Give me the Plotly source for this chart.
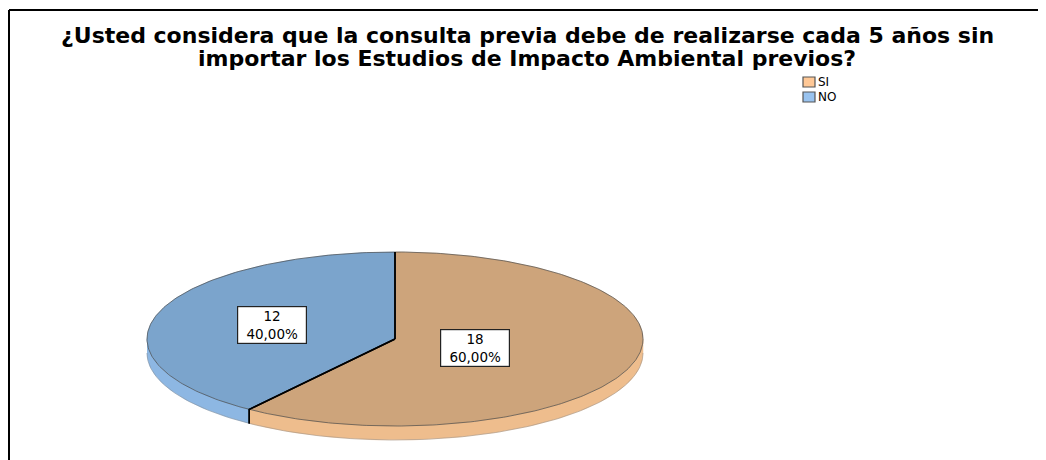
import numpy as np
import plotly.graph_objects as go

# data
labels = ['SI', 'NO']
counts = [18, 12]
percent_text = ['60,00%', '40,00%']

top_colors = ['#CDA47B', '#7BA4CC']
side_colors = ['#EEBD8D', '#8DB7E3']
legend_colors = ['#FFC896', '#99C3EF']

# geometry of the tilted pie (pixel space of the page)
cx, cy = 395, 339
rx, ry = 248, 87
depth = 14
label_r = [0.34, 0.52]


def ell(theta_deg, dy=0):
    t = np.radians(theta_deg)
    return cx + rx * np.cos(t), cy - ry * np.sin(t) + dy


total = sum(counts)
spans = [c / total * 360 for c in counts]

fig = go.Figure()

# slice angle ranges, starting at 12 o'clock, going clockwise
ranges = []
start = 90.0
for s in spans:
    ranges.append((start - s, start))
    start -= s

# sides (front part of the cylinder)
for i, (lo, hi) in enumerate(ranges):
    for shift in (-360, 0, 360):
        a = max(lo, 180 + shift)
        b = min(hi, 360 + shift)
        if a < b:
            th = np.linspace(a, b, 80)
            xt, yt = ell(th)
            xb, yb = ell(th[::-1], depth)
            fig.add_trace(go.Scatter(
                x=np.concatenate([xt, xb]), y=np.concatenate([yt, yb]),
                fill='toself', fillcolor=side_colors[i], mode='lines',
                line=dict(color=side_colors[i], width=0.5),
                hoverinfo='skip', showlegend=False))

# bottom rim of side
th = np.linspace(180, 360, 200)
xb, yb = ell(th, depth)
fig.add_trace(go.Scatter(x=xb, y=yb, mode='lines',
                         line=dict(color='rgba(120,120,120,0.5)', width=0.8),
                         hoverinfo='skip', showlegend=False))

# top faces
for i, (lo, hi) in enumerate(ranges):
    th = np.linspace(lo, hi, 200)
    xt, yt = ell(th)
    fig.add_trace(go.Scatter(
        x=np.concatenate([[cx], xt, [cx]]), y=np.concatenate([[cy], yt, [cy]]),
        fill='toself', fillcolor=top_colors[i], mode='lines',
        line=dict(color=top_colors[i], width=0.5),
        hoverinfo='skip', showlegend=False))

# rim outline of top face
th = np.linspace(0, 360, 400)
xt, yt = ell(th)
fig.add_trace(go.Scatter(x=xt, y=yt, mode='lines',
                         line=dict(color='rgba(70,70,70,0.75)', width=0.9),
                         hoverinfo='skip', showlegend=False))

# slice borders
for lo, hi in ranges:
    for a in (lo, hi):
        px, py = ell(a)
        xs, ys = [cx, px], [cy, py]
        if np.sin(np.radians(a)) < 0:
            xs.append(px)
            ys.append(py + depth)
        fig.add_trace(go.Scatter(x=xs, y=ys, mode='lines',
                                 line=dict(color='black', width=1.5),
                                 hoverinfo='skip', showlegend=False))

# value labels
for i, (lo, hi) in enumerate(ranges):
    mid = np.radians((lo + hi) / 2)
    lx = cx + rx * label_r[i] * np.cos(mid)
    ly = cy - ry * label_r[i] * np.sin(mid)
    fig.add_annotation(x=lx, y=ly, xref='x', yref='y', showarrow=False,
                       text=f'{counts[i]}<br>{percent_text[i]}',
                       font=dict(family='DejaVu Sans', size=13.5, color='black'),
                       bgcolor='white', bordercolor='#222', borderwidth=1.2, borderpad=1,
                       width=66)

# legend
for i, lab in enumerate(labels):
    y0 = 77 + i * 15
    fig.add_shape(type='rect', xref='x', yref='y', x0=803, x1=815, y0=y0, y1=y0 + 10,
                  fillcolor=legend_colors[i], line=dict(color='#555', width=1.2))
    fig.add_annotation(x=816, y=y0 + 5, xref='x', yref='y', text=lab, showarrow=False,
                       xanchor='left', font=dict(family='DejaVu Sans', size=12, color='black'))

# title
title_lines = ['¿Usted considera que la consulta previa debe de realizarse cada 5 años sin',
               'importar los Estudios de Impacto Ambiental previos?']
for k, t in enumerate(title_lines):
    fig.add_annotation(x=527, y=35 + k * 23, xref='x', yref='y', text=f'<b>{t}</b>',
                       showarrow=False,
                       font=dict(family='DejaVu Sans', size=22, color='black'))

# frame
fig.add_shape(type='line', xref='x', yref='y', x0=9, x1=1060, y0=10, y1=10,
              line=dict(color='black', width=2))
fig.add_shape(type='line', xref='x', yref='y', x0=9, x1=9, y0=10, y1=470,
              line=dict(color='black', width=2))

# axes in page pixels (the page body has an 8px margin)
fig.update_xaxes(range=[8, 1054], visible=False, fixedrange=True)
fig.update_yaxes(range=[468, 8], visible=False, fixedrange=True)
fig.update_layout(width=1046, height=460, margin=dict(l=0, r=0, t=0, b=0),
                  plot_bgcolor='white', paper_bgcolor='white', showlegend=False)

fig.write_html("out.html")
